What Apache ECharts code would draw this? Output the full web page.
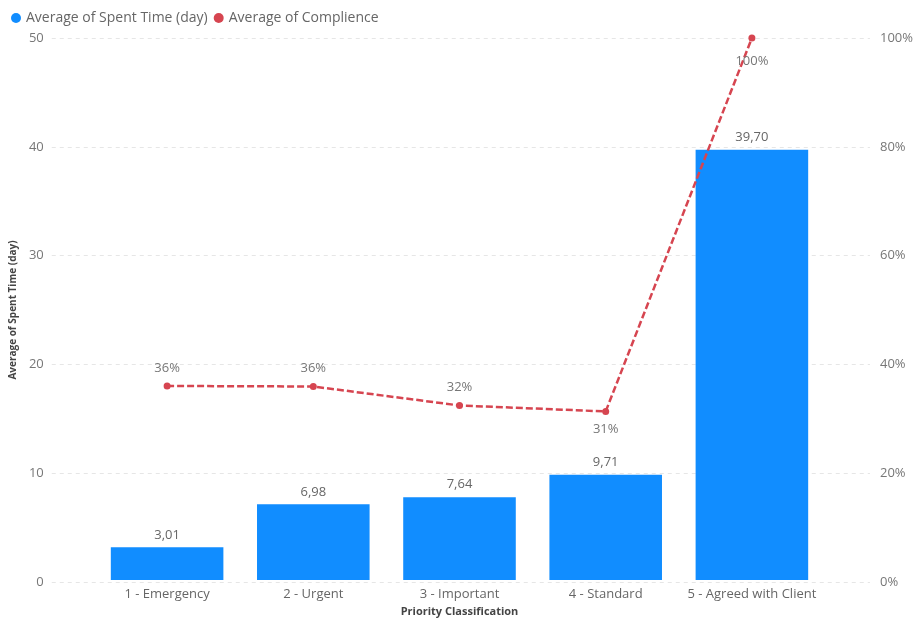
<!DOCTYPE html>
<html>
<head>
<meta charset="utf-8">
<script src="https://cdn.jsdelivr.net/npm/echarts@6/dist/echarts.min.js"></script>
<style>
  html, body { margin: 0; padding: 0; background: #fff; }
  #main { width: 916px; height: 622px; }
</style>
</head>
<body>
<div id="main"></div>
<script>
var categories = ['1 - Emergency', '2 - Urgent', '3 - Important', '4 - Standard', '5 - Agreed with Client'];
var spentTime = [3.01, 6.98, 7.64, 9.71, 39.70];
var compliance = [0.358, 0.357, 0.322, 0.311, 1.0];
var leftTicks = [0, 50, 10];   // min, max, interval
var rightTicks = [0, 1, 0.2];

var font = 'Segoe UI, "Open Sans", "Noto Sans", sans-serif';
var blue = '#118DFF', red = '#D64550';

var myChart = echarts.init(document.getElementById('main'));

var option = {
    animation: false,
    textStyle: { fontFamily: font },
    legend: {
        left: 6, top: 6,
        itemGap: 6,
        itemWidth: 10, itemHeight: 10,
        textStyle: { fontSize: 14, color: '#666', fontFamily: font },
        data: [
            { name: 'Average of Spent Time (day)', icon: 'circle' },
            { name: 'Average of Complience', icon: 'circle' }
        ]
    },
    grid: [
        { left: 50, right: 46, top: 38, bottom: 40 },
        { left: 94, right: 91, top: 38, bottom: 40 }
    ],
    xAxis: [
        { gridIndex: 0, type: 'value', show: false, min: 0, max: 1 },
        {
            gridIndex: 1, type: 'category', data: categories,
            axisLine: { show: false }, axisTick: { show: false },
            axisLabel: { color: '#666', fontSize: 13, margin: 8, interval: 0 },
            name: 'Priority Classification', nameLocation: 'middle', nameGap: 26,
            nameTextStyle: { color: '#444', fontSize: 11, fontWeight: 'bold' }
        }
    ],
    yAxis: [
        {
            gridIndex: 0, type: 'value', position: 'left',
            min: leftTicks[0], max: leftTicks[1], interval: leftTicks[2],
            axisLine: { show: false }, axisTick: { show: false },
            axisLabel: { color: '#777', fontSize: 13, margin: 8 },
            splitLine: { lineStyle: { type: [4, 4], color: '#e6e6e6' } },
            name: 'Average of Spent Time (day)', nameLocation: 'middle', nameGap: 24,
            nameTextStyle: { color: '#444', fontSize: 10, fontWeight: 'bold' }
        },
        {
            gridIndex: 0, type: 'value', position: 'right',
            min: rightTicks[0], max: rightTicks[1], interval: rightTicks[2],
            axisLine: { show: false }, axisTick: { show: false },
            splitLine: { show: false },
            axisLabel: {
                color: '#777', fontSize: 13, margin: 10,
                formatter: function (v) { return Math.round(v * 100) + '%'; }
            }
        },
        { gridIndex: 1, type: 'value', show: false, min: leftTicks[0], max: leftTicks[1], splitLine: { show: false } },
        { gridIndex: 1, type: 'value', show: false, min: rightTicks[0], max: rightTicks[1], splitLine: { show: false } }
    ],
    series: [
        {
            name: 'Average of Spent Time (day)',
            type: 'bar',
            xAxisIndex: 1, yAxisIndex: 2,
            barWidth: '77%',
            itemStyle: { color: blue },
            label: {
                show: true, position: 'top', distance: 6,
                color: '#666', fontSize: 13,
                formatter: function (p) { return p.value.toFixed(2).replace('.', ','); }
            },
            data: spentTime
        },
        {
            name: 'Average of Complience',
            type: 'line',
            xAxisIndex: 1, yAxisIndex: 3,
            symbol: 'circle', symbolSize: 7,
            itemStyle: { color: red },
            lineStyle: { color: red, width: 2.5, type: [7, 3] },
            label: {
                show: true, color: '#777', fontSize: 13, distance: 8,
                formatter: function (p) { return Math.round(p.value * 100) + '%'; }
            },
            data: compliance.map(function (v, i) {
                return {
                    value: v,
                    label: { position: (i >= 3) ? 'bottom' : 'top', distance: (i === 4) ? 13 : 8 }
                };
            }),
            z: 5
        }
    ]
};

myChart.setOption(option);
</script>
</body>
</html>
